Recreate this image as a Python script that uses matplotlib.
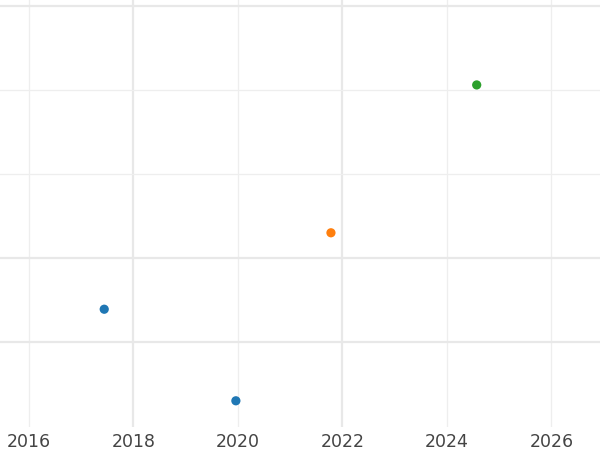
import matplotlib
matplotlib.use("Agg")
import matplotlib.pyplot as plt

# Data
years = [2017.44, 2019.96, 2021.78, 2024.57]
values = [1.39, 0.30, 2.30, 4.06]
colors = ["#1f77b4", "#1f77b4", "#ff7f0e", "#2ca02c"]
xticks = [2016, 2018, 2020, 2022, 2024, 2026]
xticklabels = ["2016", "2018", "2020", "2022", "2024", "2026"]
yticks = [1, 2, 3, 4, 5]

fig = plt.figure(figsize=(6, 4.5), dpi=100)
ax = fig.add_axes([0, 1 - 427 / 450, 1, 427 / 450])

ax.scatter(years, values, c=colors, s=44, zorder=3, linewidths=0)

ax.set_xlim(2015.445, 2026.93)
ax.set_ylim(-0.012, 5.071)
ax.set_xticks(xticks)
ax.set_xticklabels(xticklabels)
ax.set_yticks(yticks)
ax.set_yticklabels([])

for s in ax.spines.values():
    s.set_visible(False)
ax.grid(True, color="#ebebeb", linewidth=1.0)
ax.set_axisbelow(True)
ax.tick_params(axis="both", length=0)
ax.tick_params(axis="x", labelsize=12.5, labelcolor="#444444", pad=4.5)

thick_x = {2018, 2022}
thick_y = {1, 2, 5}
for t, gl in zip(xticks, ax.get_xgridlines()):
    gl.set_linewidth(1.6 if t in thick_x else 0.9)
    gl.set_color("#e8e8e8" if t in thick_x else "#eeeeee")
for t, gl in zip(yticks, ax.get_ygridlines()):
    gl.set_linewidth(1.6 if t in thick_y else 0.9)
    gl.set_color("#e8e8e8" if t in thick_y else "#eeeeee")

fig.savefig("out.png", dpi=100)
